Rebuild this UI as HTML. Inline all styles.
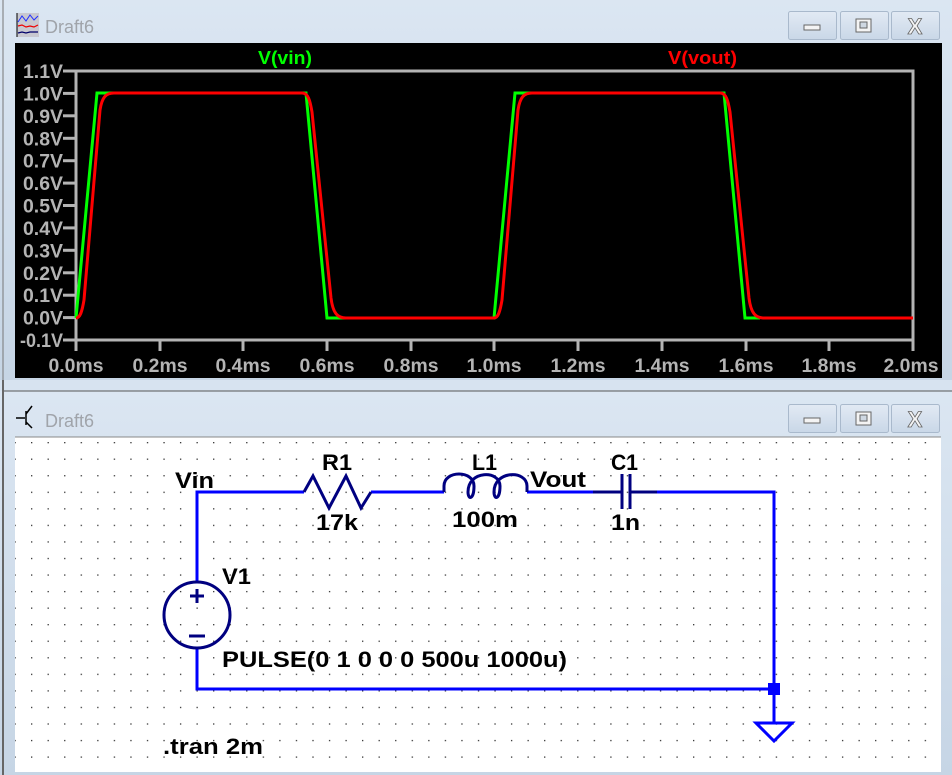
<!DOCTYPE html>
<html><head><meta charset="utf-8"><style>
html,body{margin:0;padding:0;width:952px;height:775px;overflow:hidden;background:#d5e1ee;}
svg{display:block;}
</style></head><body>
<svg width="952" height="775" viewBox="0 0 952 775" xmlns="http://www.w3.org/2000/svg" font-family="Liberation Sans, sans-serif">
<defs>
<linearGradient id="tb" x1="0" y1="0" x2="0" y2="1"><stop offset="0" stop-color="#dbe6f2"/><stop offset="1" stop-color="#c6d5e5"/></linearGradient>
<linearGradient id="bt" x1="0" y1="0" x2="0" y2="1"><stop offset="0" stop-color="#e2eaf4"/><stop offset="1" stop-color="#c9d7e7"/></linearGradient>
<pattern id="dots" x="31" y="442" width="16.55" height="16.55" patternUnits="userSpaceOnUse"><rect x="0" y="0" width="1.3" height="1.3" fill="#333"/></pattern>
</defs>
<rect x="0" y="0" width="952" height="380" fill="url(#tb)"/>
<line x1="3" y1="0" x2="3" y2="775" stroke="#777" stroke-width="1"/>
<rect x="15" y="43" width="927" height="335" fill="#000"/>
<g>
<rect x="17" y="13" width="22" height="24" fill="#c8c8d0"/>
<polyline points="18,22 22,16 26,21 30,15 34,20 38,16" fill="none" stroke="#2030ff" stroke-width="1"/>
<polyline points="18,26 22,25 26,27 30,26 34,27 38,25" fill="none" stroke="#e00" stroke-width="1.2"/>
<polyline points="18,33 22,32 26,33 30,32 38,32" fill="none" stroke="#00006a" stroke-width="1.2"/>
<line x1="17" y1="13" x2="17" y2="37" stroke="#000"/>
</g>
<text x="45" y="33" font-size="18" fill="#a0a4aa">Draft6</text>
<g stroke="#a9b9cc" fill="url(#bt)"><rect x="788.5" y="11.5" width="48" height="28" rx="2"/><rect x="840.5" y="11.5" width="48" height="28" rx="2"/><rect x="891.5" y="11.5" width="48" height="28" rx="2"/></g>
<rect x="804" y="25" width="16" height="5" fill="#f4f4f4" stroke="#666"/>
<rect x="856" y="19" width="15" height="13" fill="#f4f4f4" stroke="#666" stroke-width="1"/>
<rect x="860" y="22" width="7" height="6" fill="#cfd8e2" stroke="#666" stroke-width="1"/>
<text x="915" y="34" font-size="22" font-weight="bold" fill="#f4f4f4" stroke="#666" stroke-width="0.8" text-anchor="middle">X</text>

<g stroke="#b4b4b4" stroke-width="3" fill="none">
<rect x="76" y="71" width="837" height="269"/>
</g>
<g stroke="#b4b4b4" stroke-width="3">
<line x1="63" y1="71" x2="76" y2="71"/><line x1="63" y1="93.4" x2="76" y2="93.4"/><line x1="63" y1="115.8" x2="76" y2="115.8"/><line x1="63" y1="138.3" x2="76" y2="138.3"/><line x1="63" y1="160.7" x2="76" y2="160.7"/><line x1="63" y1="183.1" x2="76" y2="183.1"/><line x1="63" y1="205.5" x2="76" y2="205.5"/><line x1="63" y1="227.9" x2="76" y2="227.9"/><line x1="63" y1="250.3" x2="76" y2="250.3"/><line x1="63" y1="272.8" x2="76" y2="272.8"/><line x1="63" y1="295.2" x2="76" y2="295.2"/><line x1="63" y1="317.6" x2="76" y2="317.6"/><line x1="63" y1="340" x2="76" y2="340"/>
<line x1="160" y1="340" x2="160" y2="351"/><line x1="243" y1="340" x2="243" y2="351"/><line x1="327" y1="340" x2="327" y2="351"/><line x1="411" y1="340" x2="411" y2="351"/><line x1="494" y1="340" x2="494" y2="351"/><line x1="578" y1="340" x2="578" y2="351"/><line x1="662" y1="340" x2="662" y2="351"/><line x1="746" y1="340" x2="746" y2="351"/><line x1="829" y1="340" x2="829" y2="351"/><line x1="76" y1="340" x2="76" y2="351"/><line x1="913" y1="340" x2="913" y2="351"/>
</g>
<g fill="#b4b4b4" font-size="19" font-weight="bold" text-anchor="end">
<text x="63" y="78" textLength="40" lengthAdjust="spacingAndGlyphs">1.1V</text>
<text x="63" y="100.4" textLength="40" lengthAdjust="spacingAndGlyphs">1.0V</text>
<text x="63" y="122.8" textLength="40" lengthAdjust="spacingAndGlyphs">0.9V</text>
<text x="63" y="145.3" textLength="40" lengthAdjust="spacingAndGlyphs">0.8V</text>
<text x="63" y="167.7" textLength="40" lengthAdjust="spacingAndGlyphs">0.7V</text>
<text x="63" y="190.1" textLength="40" lengthAdjust="spacingAndGlyphs">0.6V</text>
<text x="63" y="212.5" textLength="40" lengthAdjust="spacingAndGlyphs">0.5V</text>
<text x="63" y="234.9" textLength="40" lengthAdjust="spacingAndGlyphs">0.4V</text>
<text x="63" y="257.3" textLength="40" lengthAdjust="spacingAndGlyphs">0.3V</text>
<text x="63" y="279.8" textLength="40" lengthAdjust="spacingAndGlyphs">0.2V</text>
<text x="63" y="302.2" textLength="40" lengthAdjust="spacingAndGlyphs">0.1V</text>
<text x="63" y="324.6" textLength="40" lengthAdjust="spacingAndGlyphs">0.0V</text>
<text x="63" y="347" textLength="43" lengthAdjust="spacingAndGlyphs">-0.1V</text>
</g>
<g fill="#b4b4b4" font-size="19" font-weight="bold" text-anchor="middle">
<text x="76" y="372" textLength="55" lengthAdjust="spacingAndGlyphs">0.0ms</text>
<text x="160" y="372" textLength="55" lengthAdjust="spacingAndGlyphs">0.2ms</text>
<text x="243" y="372" textLength="55" lengthAdjust="spacingAndGlyphs">0.4ms</text>
<text x="327" y="372" textLength="55" lengthAdjust="spacingAndGlyphs">0.6ms</text>
<text x="411" y="372" textLength="55" lengthAdjust="spacingAndGlyphs">0.8ms</text>
<text x="494" y="372" textLength="55" lengthAdjust="spacingAndGlyphs">1.0ms</text>
<text x="578" y="372" textLength="55" lengthAdjust="spacingAndGlyphs">1.2ms</text>
<text x="662" y="372" textLength="55" lengthAdjust="spacingAndGlyphs">1.4ms</text>
<text x="746" y="372" textLength="55" lengthAdjust="spacingAndGlyphs">1.6ms</text>
<text x="829" y="372" textLength="55" lengthAdjust="spacingAndGlyphs">1.8ms</text>
<text x="911" y="372" textLength="55" lengthAdjust="spacingAndGlyphs">2.0ms</text>
</g>
<text x="258" y="64" font-size="18" font-weight="bold" fill="#00ff00" textLength="54" lengthAdjust="spacingAndGlyphs">V(vin)</text>
<text x="668" y="64" font-size="18" font-weight="bold" fill="#ff0000" textLength="69" lengthAdjust="spacingAndGlyphs">V(vout)</text>
<polyline fill="none" stroke="#00ff00" stroke-width="3" points="76,318 97,93 306,93 327,318 494,318 515,93 724,93 745,318 760,318"/>
<path fill="none" stroke="#ff0000" stroke-width="3" d="M76,318 C80,318 82,312 84,300 L100,110 C102,97 106,93 114,93 L302,93 C308,93 310,100 312,112 L331,298 C333,314 338,318 346,318 L494,318 C498,318 500,312 502,300 L518,110 C520,97 524,93 532,93 L720,93 C726,93 728,100 730,112 L749,298 C751,314 756,318 764,318 L913,318"/>

<rect x="0" y="380" width="952" height="11" fill="#d7e3f0"/>
<rect x="0" y="391" width="952" height="384" fill="url(#tb)"/>
<line x1="3" y1="391" x2="952" y2="391" stroke="#555" stroke-width="1"/>
<line x1="3" y1="380" x2="3" y2="775" stroke="#666" stroke-width="2"/>
<rect x="15" y="437" width="926" height="335" fill="#fff"/>
<rect x="15" y="437" width="926" height="335" fill="url(#dots)"/>
<line x1="15" y1="437" x2="941" y2="437" stroke="#888" stroke-width="1"/>
<g stroke="#000" stroke-width="1.5" fill="none"><line x1="16" y1="418" x2="25" y2="418"/><line x1="26" y1="411" x2="26" y2="425"/><line x1="26" y1="414" x2="32" y2="406"/><line x1="26" y1="422" x2="32" y2="428"/></g>
<text x="45" y="427" font-size="18" fill="#a0a4aa">Draft6</text>
<g stroke="#a9b9cc" fill="url(#bt)"><rect x="788.5" y="404.5" width="48" height="28" rx="2"/><rect x="840.5" y="404.5" width="48" height="28" rx="2"/><rect x="891.5" y="404.5" width="48" height="28" rx="2"/></g>
<rect x="804" y="418" width="16" height="5" fill="#f4f4f4" stroke="#666"/>
<rect x="856" y="412" width="15" height="13" fill="#f4f4f4" stroke="#666" stroke-width="1"/>
<rect x="860" y="415" width="7" height="6" fill="#cfd8e2" stroke="#666" stroke-width="1"/>
<text x="915" y="427" font-size="22" font-weight="bold" fill="#f4f4f4" stroke="#666" stroke-width="0.8" text-anchor="middle">X</text>

<g stroke="#0000ff" stroke-width="3" fill="none">
<polyline points="304,492 197,492 197,582"/>
<polyline points="197,648 197,689 774,689"/>
<line x1="371" y1="492" x2="444" y2="492"/>
<line x1="527" y1="492" x2="593" y2="492"/>
<polyline points="657,492 774,492 774,723"/>
<polygon points="756,723 792,723 774,741"/>
</g>
<rect x="768" y="683" width="12" height="12" fill="#0000ff"/>
<g stroke="#000080" stroke-width="3" fill="none">
<polyline points="304,492 313,476 329,508 346,476 361,508 371,492"/>
<path d="M444,492 L444,486 C444,470 474,470 474,486 C474,500 468,500 468,492 C468,470 500,470 500,486 C500,500 494,500 494,492 C494,470 527,470 527,486 L527,492"/>
<line x1="593" y1="492" x2="622" y2="492"/>
<line x1="630" y1="492" x2="657" y2="492"/>
<line x1="622" y1="474" x2="622" y2="509"/>
<line x1="630" y1="474" x2="630" y2="509"/>
<circle cx="197" cy="615" r="33"/>
<line x1="197" y1="589" x2="197" y2="603"/><line x1="190" y1="596" x2="204" y2="596"/>
<line x1="189" y1="636" x2="205" y2="636"/>
</g>
<g font-size="22" font-weight="bold" fill="#000" lengthAdjust="spacingAndGlyphs">
<text x="175" y="488" textLength="39" lengthAdjust="spacingAndGlyphs">Vin</text>
<text x="322" y="470" textLength="30" lengthAdjust="spacingAndGlyphs">R1</text>
<text x="316" y="530" textLength="42" lengthAdjust="spacingAndGlyphs">17k</text>
<text x="472" y="470" textLength="25" lengthAdjust="spacingAndGlyphs">L1</text>
<text x="452" y="527" textLength="66" lengthAdjust="spacingAndGlyphs">100m</text>
<text x="530" y="487" textLength="56" lengthAdjust="spacingAndGlyphs">Vout</text>
<text x="611" y="470" textLength="27" lengthAdjust="spacingAndGlyphs">C1</text>
<text x="611" y="530" textLength="29" lengthAdjust="spacingAndGlyphs">1n</text>
<text x="222" y="584" textLength="29" lengthAdjust="spacingAndGlyphs">V1</text>
<text x="222" y="667" textLength="345" lengthAdjust="spacingAndGlyphs">PULSE(0 1 0 0 0 500u 1000u)</text>
<text x="163" y="754" textLength="100" lengthAdjust="spacingAndGlyphs">.tran 2m</text>
</g>
</svg>
</body></html>
